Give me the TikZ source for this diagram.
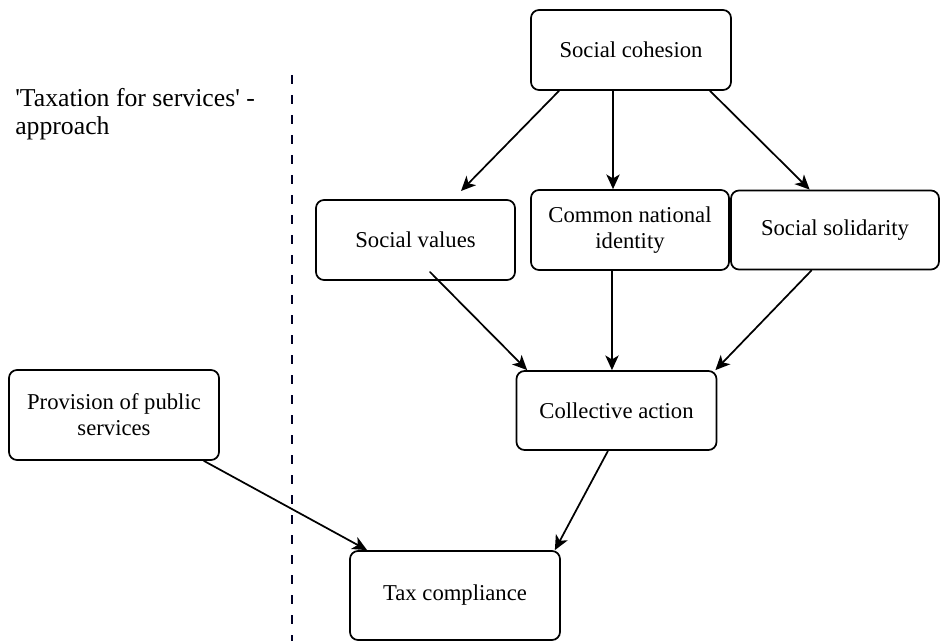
\documentclass[tikz,border=0pt]{standalone}
\usepackage{fontspec}
\setmainfont{Liberation Serif}
\usetikzlibrary{arrows.meta}

\tikzset{
  blk/.style={draw,line width=1.3pt,rounded corners=6pt,align=center,inner sep=0pt,
    font=\fontsize{17}{19.5}\selectfont},
  arr/.style={line width=1.3pt,-{Stealth[length=11pt,width=10pt,inset=3pt]}}
}

\begin{document}
\begin{tikzpicture}[x=0.75pt,y=-0.75pt,line cap=round,line join=round]
  \useasboundingbox (0,0) rectangle (941,641);
  % left side note and divider
  \node[anchor=north west,inner sep=0pt,align=left,font=\fontsize{19.3}{21}\selectfont] (note) at (15,88)
    {\textquotesingle Taxation for services\textquotesingle\ -\\approach};
  \draw[line width=1pt,color=black!85!blue,dash pattern=on 7pt off 8pt,line cap=butt] (292,75) -- (292,641);
  % boxes
  \node[blk,minimum width=150pt,minimum height=60pt] (sc) at (631,50) {Social cohesion};
  \node[blk,minimum width=149.25pt,minimum height=60pt] (sv) at (415.5,240) {Social values};
  \node[blk,minimum width=148.5pt,minimum height=60pt] (cni) at (630,230) {Common national\\identity};
  \node[blk,minimum width=156pt,minimum height=59.25pt] (ss) at (835,230) {Social solidarity};
  \node[blk,minimum width=150pt,minimum height=59.25pt] (ca) at (616.5,410.5) {Collective action};
  \node[blk,minimum width=157.5pt,minimum height=67.5pt] (pps) at (114,415) {Provision of public\\services};
  \node[blk,minimum width=157.5pt,minimum height=66.75pt] (tax) at (455,595.5) {Tax compliance};
  \coordinate (svin) at (461,191);
  \coordinate (svout) at (430,272);
  % arrows
  \draw[arr] ([xshift=-54pt]sc.south) -- (svin);
  \draw[arr] ([xshift=-13.5pt]sc.south) -- ([xshift=-12.75pt]cni.north);
  \draw[arr] ([xshift=59.25pt]sc.south) -- ([xshift=-19pt]ss.north);
  \draw[arr] (svout) -- ([xshift=-67pt]ca.north);
  \draw[arr] ([xshift=-13.5pt]cni.south) -- ([xshift=-3.4pt]ca.north);
  \draw[arr] ([xshift=-17.6pt]ss.south) -- ([xshift=-1.5pt]ca.north east);
  \draw[arr] ([xshift=-12pt]pps.south east) -- ([xshift=13.5pt]tax.north west);
  \draw[arr] ([xshift=-6.4pt]ca.south) -- ([xshift=-4.5pt]tax.north east);
\end{tikzpicture}
\end{document}
